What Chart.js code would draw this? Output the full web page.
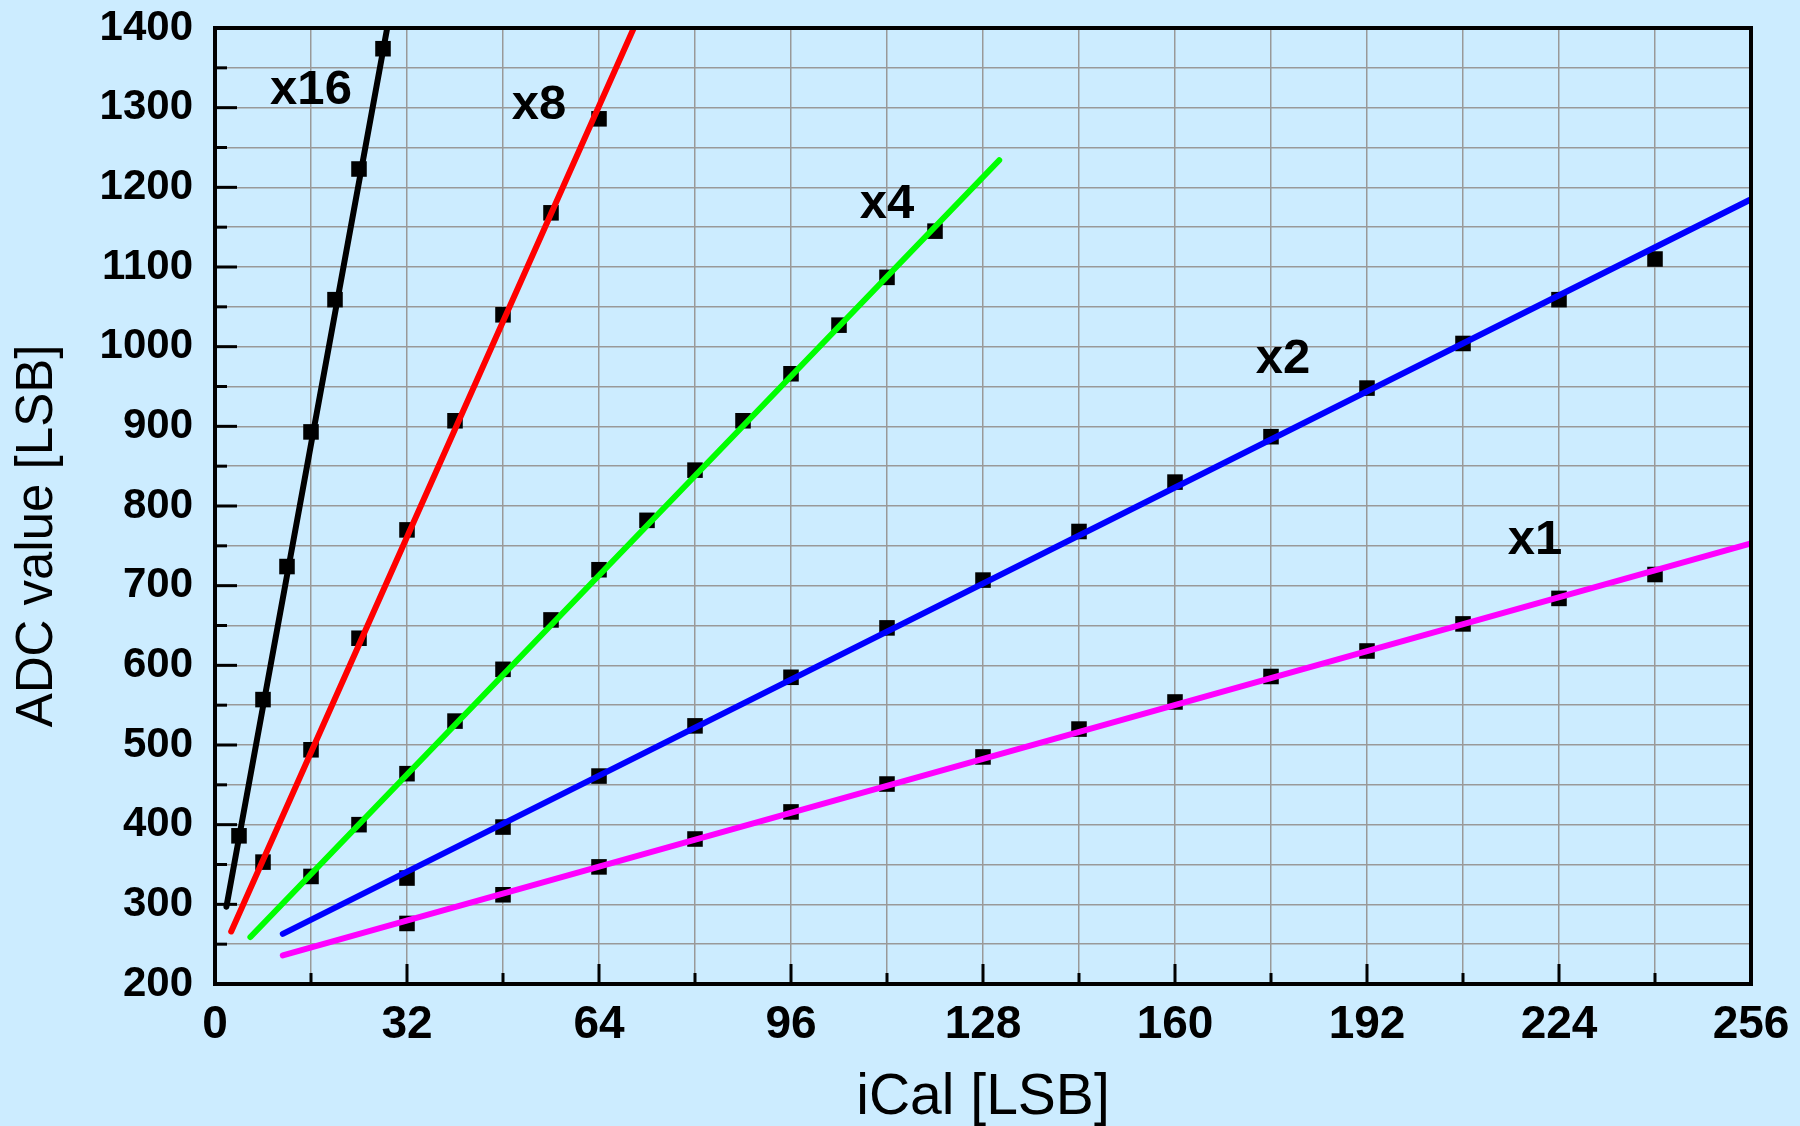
<!DOCTYPE html>
<html>
<head>
<meta charset="utf-8">
<script src="https://cdn.jsdelivr.net/npm/chart.js@4.4.1/dist/chart.umd.min.js"></script>
<style>
  html, body { margin: 0; padding: 0; background: #ccecff; }
  #wrap { width: 1800px; height: 1126px; position: relative; }
</style>
</head>
<body>
<div id="wrap"><canvas id="adcChart"></canvas></div>
<script>
// measured points, iCal [LSB] vs ADC value [LSB]
const x16X = [4, 8, 12, 16, 20, 24, 28];
const x16Y = [386, 557, 724, 893, 1059, 1223, 1374];
const x8X = [8, 16, 24, 32, 40, 48, 56, 64];
const x8Y = [353, 494, 634, 770, 907, 1040, 1168, 1286];
const x4X = [16, 24, 32, 40, 48, 56, 64, 72, 80, 88, 96, 104, 112, 120];
const x4Y = [335, 400, 464, 530, 595, 657, 720, 782, 845, 907, 966, 1027, 1087, 1145];
const x2X = [32, 48, 64, 80, 96, 112, 128, 144, 160, 176, 192, 208, 224, 240];
const x2Y = [333, 397, 461, 524, 585, 647, 707, 768, 830, 887, 948, 1004, 1059, 1110];
const x1X = [32, 48, 64, 80, 96, 112, 128, 144, 160, 176, 192, 208, 224, 240];
const x1Y = [276, 312, 347, 382, 416, 451, 485, 520, 554, 586, 618, 652, 684, 714];

// linear fit end points
const fit16X = [1.9, 28.7], fit16Y = [297, 1400];
const fit8X = [2.7, 69.8], fit8Y = [266, 1400];
const fit4X = [5.9, 130.7], fit4Y = [259, 1234];
const fit2X = [11.3, 256], fit2Y = [263, 1185];
const fit1X = [11.3, 256], fit1Y = [236, 753];

const gainNames = ["x16", "x8", "x4", "x2", "x1"];
const gainColors = ["#000000", "#ff0000", "#00ff00", "#0000ff", "#ff00ff"];
const gainLabelX = [16, 54, 112, 178, 220];
const gainLabelY = [1322, 1303, 1178, 984, 757];

const FONT = "'Liberation Sans', Arial, sans-serif";

function pts(xs, ys) {
  return xs.map((x, i) => ({ x, y: ys[i] }));
}

function fitSet(xs, ys, color) {
  return {
    type: "line", data: pts(xs, ys), borderColor: color, borderWidth: 6,
    borderCapStyle: "round", pointRadius: 0, showLine: true, order: 0,
  };
}

function markSet(xs, ys) {
  return {
    type: "scatter", data: pts(xs, ys), pointStyle: "rect", pointRadius: 11,
    backgroundColor: "#000", borderColor: "#000", borderWidth: 0, order: 1,
  };
}

const framePlugin = {
  id: "frame",
  afterDatasetsDraw(chart) {
    const { ctx, chartArea: a, scales } = chart;
    ctx.save();
    ctx.strokeStyle = "#000";
    ctx.lineCap = "butt";
    // inward ticks
    ctx.lineWidth = 3;
    for (let v = 16; v < 256; v += 16) {
      const px = scales.x.getPixelForValue(v);
      const len = v % 32 === 0 ? 20 : 11;
      ctx.beginPath(); ctx.moveTo(px, a.bottom); ctx.lineTo(px, a.bottom - len); ctx.stroke();
    }
    for (let v = 250; v < 1400; v += 50) {
      const py = scales.y.getPixelForValue(v);
      const len = v % 100 === 0 ? 22 : 12;
      ctx.beginPath(); ctx.moveTo(a.left, py); ctx.lineTo(a.left + len, py); ctx.stroke();
    }
    ctx.lineWidth = 4;
    ctx.strokeRect(a.left, a.top, a.right - a.left, a.bottom - a.top);

    // gain labels
    ctx.fillStyle = "#000";
    ctx.font = "bold 49px " + FONT;
    ctx.textAlign = "center";
    ctx.textBaseline = "middle";
    gainNames.forEach((n, i) => {
      ctx.fillText(n, scales.x.getPixelForValue(gainLabelX[i]), scales.y.getPixelForValue(gainLabelY[i]));
    });

    // axis titles
    ctx.font = "57px " + FONT;
    ctx.fillText("iCal [LSB]", (a.left + a.right) / 2, 1098);
    ctx.translate(38, 536);
    ctx.rotate(-Math.PI / 2);
    ctx.font = "51px " + FONT;
    ctx.fillText("ADC value [LSB]", 0, 0);
    ctx.restore();
  },
};

new Chart(document.getElementById("adcChart"), {
  data: {
    datasets: [
      fitSet(fit16X, fit16Y, gainColors[0]),
      fitSet(fit8X, fit8Y, gainColors[1]),
      fitSet(fit4X, fit4Y, gainColors[2]),
      fitSet(fit2X, fit2Y, gainColors[3]),
      fitSet(fit1X, fit1Y, gainColors[4]),
      markSet(x16X, x16Y),
      markSet(x8X, x8Y),
      markSet(x4X, x4Y),
      markSet(x2X, x2Y),
      markSet(x1X, x1Y),
    ],
  },
  options: {
    responsive: true,
    maintainAspectRatio: false,
    animation: false,
    layout: { padding: { top: 28, right: 49, left: 0, bottom: 0 } },
    plugins: { legend: { display: false }, tooltip: { enabled: false } },
    scales: {
      x: {
        type: "linear", min: 0, max: 256,
        afterFit: (s) => { s.height = 142; s.paddingLeft = 0; s.paddingRight = 0; },
        ticks: {
          stepSize: 16, padding: 14, color: "#000", maxRotation: 0, autoSkip: false,
          font: { family: FONT, size: 46, weight: "bold" },
          callback: (v) => (v % 32 === 0 ? v : ""),
        },
        grid: { color: "#999999", lineWidth: 1.5, drawTicks: false },
        border: { display: false },
      },
      y: {
        type: "linear", min: 200, max: 1400,
        afterFit: (s) => { s.width = 215; s.paddingTop = 0; s.paddingBottom = 0; },
        ticks: {
          stepSize: 50, padding: 22, color: "#000", autoSkip: false,
          font: { family: FONT, size: 42, weight: "bold" },
          callback: (v) => (v % 100 === 0 ? v : ""),
        },
        grid: { color: "#999999", lineWidth: 1.5, drawTicks: false },
        border: { display: false },
      },
    },
  },
  plugins: [framePlugin],
});
</script>
</body>
</html>
